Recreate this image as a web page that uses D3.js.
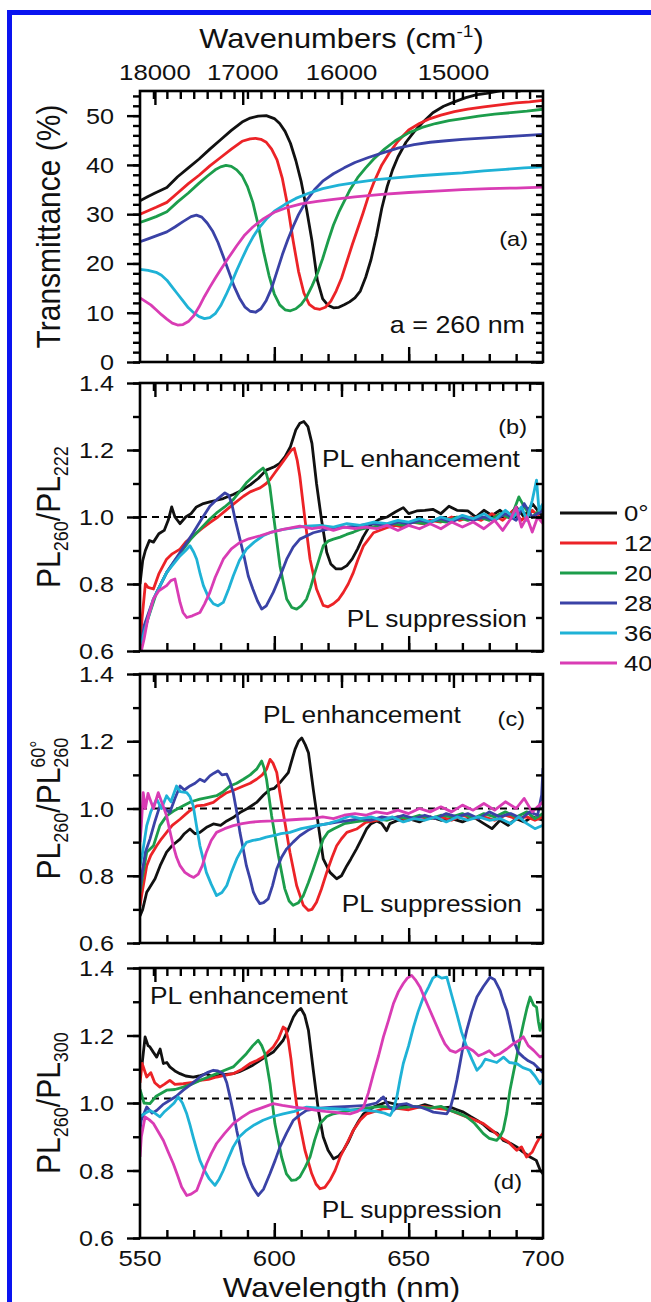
<!DOCTYPE html>
<html>
<head>
<meta charset="utf-8">
<script src="https://cdn.jsdelivr.net/npm/d3@7"></script>
<style>
  html, body { margin: 0; padding: 0; background: #fff; }
  svg { display: block; }
  text { font-family: "Liberation Sans", Arial, Helvetica, sans-serif; fill: #111; }
</style>
</head>
<body>
<svg id="fig" width="651" height="1302"></svg>
<script>
// ---------- axis values and labels ----------
const wavelengthDomain = [550, 700];
const wavelengthTicks = [550, 600, 650, 700];
const wavenumberTicks = [18000, 17000, 16000, 15000];
const transTicks = [0, 10, 20, 30, 40, 50];
const ratioTicks = [0.6, 0.8, 1.0, 1.2, 1.4];
const angleLabels = ["0°", "12°", "20°", "28°", "36°", "40°"];

// ---------- (a) transmittance, % vs wavelength (nm) ----------
const transBlack = [[550,32.7],[553,33.6],[556,34.4],[560,35.4],[564,37.6],[568,39.4],[572,41.2],[576,43.2],[580,45.1],[584,47.0],[588,48.7],[591,49.5],[594,49.9],[597,50.0],[600,49.4],[602,48.4],[604,46.8],[606,44.4],[608,40.9],[610,36.6],[612,31.0],[614,24.6],[616,16.6],[618,12.8],[620,11.5],[622,11.0],[624,11.1],[626,11.6],[628,12.2],[630,13.0],[632,14.4],[634,17.2],[636,20.8],[638,25.6],[640,31.2],[642,35.6],[644,39.0],[646,41.6],[649,44.6],[652,46.7],[655,48.5],[659,50.6],[663,51.9],[667,52.8],[671,53.6],[675,54.2],[679,54.5],[683,54.9],[687,55.3],[691,55.0],[695,55.4],[700,55.2]];
const transRed = [[550,30.0],[553,30.7],[556,31.4],[560,32.4],[564,34.3],[568,36.2],[572,37.9],[576,39.8],[580,41.5],[584,43.2],[588,44.8],[591,45.3],[593,45.4],[595,45.2],[597,44.6],[599,43.2],[601,41.0],[603,37.2],[605,31.6],[607,24.6],[609,18.4],[611,14.0],[613,11.7],[615,10.9],[617,10.7],[619,11.1],[621,12.3],[623,14.4],[625,17.0],[627,20.4],[629,23.8],[631,27.0],[633,30.2],[635,33.6],[637,36.4],[640,40.0],[643,42.6],[646,44.8],[650,47.1],[654,48.4],[658,49.4],[662,50.1],[667,50.8],[672,51.3],[678,51.8],[684,52.2],[690,52.6],[695,52.8],[700,53.1]];
const transGreen = [[550,28.3],[553,28.9],[556,29.5],[560,30.5],[564,32.5],[568,34.3],[572,36.3],[575,37.7],[578,39.0],[580,39.6],[582,39.9],[584,39.7],[586,39.0],[588,37.8],[590,35.6],[592,32.4],[594,27.8],[596,22.4],[598,17.6],[600,13.8],[602,11.6],[604,10.6],[606,10.4],[608,10.8],[610,11.7],[612,13.2],[614,15.4],[616,17.9],[618,21.0],[620,24.5],[622,27.8],[624,30.4],[626,32.6],[628,34.8],[631,37.4],[634,39.4],[637,41.2],[641,43.2],[645,44.9],[650,46.5],[655,47.6],[660,48.4],[665,49.0],[670,49.4],[676,49.9],[682,50.3],[688,50.6],[694,50.9],[700,51.3]];
const transBlue = [[550,24.4],[553,25.0],[556,25.6],[560,26.4],[563,27.4],[566,28.5],[569,29.5],[571,29.8],[573,29.4],[575,28.2],[577,26.6],[579,24.3],[581,21.4],[583,18.4],[585,15.4],[587,13.0],[589,11.2],[591,10.3],[593,10.1],[595,10.8],[597,12.5],[599,15.0],[601,18.4],[603,21.8],[605,24.8],[607,27.5],[609,29.9],[612,32.8],[615,35.0],[618,36.7],[622,38.2],[626,39.4],[630,40.5],[635,41.5],[640,42.4],[646,43.4],[652,44.1],[658,44.6],[664,44.9],[670,45.2],[676,45.4],[682,45.6],[688,45.8],[694,46.0],[700,46.2]];
const transCyan = [[550,18.8],[553,18.6],[556,18.2],[558,17.6],[560,16.6],[562,15.2],[564,13.8],[566,12.4],[568,11.0],[570,10.0],[572,9.2],[574,8.8],[576,9.0],[578,9.8],[580,11.4],[582,13.6],[584,16.0],[586,18.6],[588,21.0],[590,23.3],[592,25.3],[594,27.0],[597,29.0],[600,30.6],[604,32.0],[608,33.2],[613,34.3],[618,35.2],[624,35.9],[630,36.4],[638,37.0],[646,37.4],[654,37.8],[662,38.1],[670,38.4],[678,38.8],[686,39.1],[693,39.4],[700,39.6]];
const transMagenta = [[550,13.0],[552,12.3],[554,11.6],[556,10.6],[558,9.6],[560,8.7],[562,7.9],[564,7.5],[566,7.6],[568,8.2],[570,9.4],[572,11.2],[574,13.3],[576,15.2],[578,17.0],[580,18.7],[583,21.2],[586,23.6],[589,25.8],[592,27.4],[596,29.1],[600,30.4],[605,31.4],[610,32.1],[616,32.6],[622,33.0],[630,33.5],[640,34.0],[650,34.4],[660,34.7],[670,35.0],[680,35.2],[690,35.3],[700,35.5]];

// ---------- (b) PL260 / PL222 ----------
const ratioB0 = [[550,0.80],[551,0.87],[552,0.90],[553.5,0.93],[555,0.925],[557,0.95],[559,0.96],[560.5,0.99],[561.8,1.03],[563,1.00],[564.9,0.98],[567,1.00],[569,1.01],[571,1.03],[573.6,1.04],[576,1.045],[578.5,1.05],[581,1.055],[584.7,1.067],[588,1.08],[591,1.096],[594,1.115],[597,1.14],[600,1.15],[602,1.16],[604,1.18],[606,1.21],[608,1.26],[609.5,1.28],[611,1.285],[612.5,1.27],[614,1.22],[615.7,1.10],[617.6,0.99],[619.5,0.895],[621,0.86],[623,0.845],[625,0.845],[627,0.855],[629,0.875],[631,0.905],[633,0.94],[635.6,0.975],[639,0.993],[642,1.0],[645,1.015],[648,1.028],[650,1.01],[653,1.018],[656,1.02],[659,1.023],[662,1.01],[665,1.032],[668,1.02],[672,1.018],[675,1.0],[678,1.02],[681,1.005],[684,1.02],[687,1.0],[690,1.03],[693,1.0],[696,1.04],[700,1.0]];
const ratioB12 = [[550,0.62],[550.8,0.70],[552,0.80],[553,0.79],[555,0.785],[557,0.83],[559.9,0.874],[562,0.89],[564.9,0.904],[567,0.925],[569.8,0.944],[573,0.965],[576,0.983],[579,1.0],[582.3,1.022],[585,1.04],[588.5,1.062],[591,1.075],[594.7,1.087],[597,1.10],[598.4,1.112],[600,1.13],[602.8,1.161],[605,1.185],[606.4,1.20],[607.4,1.205],[608.5,1.17],[609.5,1.121],[611.4,0.993],[613.3,0.874],[615.7,0.785],[618.2,0.736],[620,0.732],[622,0.741],[624,0.755],[625.7,0.775],[627.5,0.80],[629.4,0.834],[631,0.87],[633.2,0.914],[636.9,0.953],[641.8,0.968],[645,0.975],[648,0.97],[651,0.985],[655,0.98],[658,0.99],[662,0.985],[666,1.0],[669,0.99],[673,1.0],[677,0.99],[681,1.01],[685,0.99],[689,1.02],[692,0.99],[696,1.02],[700,0.99]];
const ratioB20 = [[550,0.60],[552.5,0.685],[556.2,0.775],[559.9,0.834],[563,0.87],[566.1,0.904],[569,0.935],[572.3,0.963],[575.5,0.99],[578.5,1.012],[581.5,1.03],[584.7,1.052],[587,1.075],[589.6,1.102],[592,1.12],[594,1.135],[595.8,1.146],[597,1.13],[598.3,1.092],[600.2,0.973],[602.1,0.854],[604.6,0.755],[606.5,0.73],[608.3,0.725],[610,0.735],[612,0.755],[613.5,0.79],[615.1,0.834],[616.7,0.875],[618.2,0.914],[620,0.928],[622,0.934],[624.5,0.94],[626.9,0.948],[629.5,0.955],[631.9,0.963],[636,0.97],[640,0.975],[644,0.98],[648,0.975],[652,0.985],[656,0.98],[660,0.99],[664,0.985],[668,1.0],[672,0.99],[676,1.0],[680,0.99],[684,1.01],[688,0.995],[691,1.06],[693,1.03],[696,1.0],[700,1.03]];
const ratioB28 = [[550.5,0.62],[551.5,0.675],[555,0.755],[559.9,0.834],[564.9,0.894],[569.8,0.953],[573,0.995],[576,1.032],[579,1.055],[581.6,1.072],[583,1.065],[584.1,1.042],[585.5,0.99],[587.2,0.934],[588.8,0.88],[590.3,0.824],[592,0.785],[593.7,0.75],[595.3,0.725],[597,0.735],[599.6,0.775],[602,0.82],[604.6,0.874],[607,0.91],[609.5,0.934],[614.5,0.953],[618,0.96],[622,0.968],[627,0.97],[632,0.975],[637,0.98],[642,0.975],[646,0.985],[650,0.98],[654,0.99],[658,0.985],[662,0.995],[666,0.985],[670,1.0],[674,0.99],[678,1.0],[682,0.99],[686,1.01],[690,0.99],[693,1.04],[696,1.0],[700,1.02]];
const ratioB36 = [[550.5,0.62],[551.5,0.655],[555,0.755],[559.9,0.834],[562.5,0.86],[564.9,0.884],[567,0.90],[568.6,0.914],[570,0.895],[571.1,0.874],[572.4,0.83],[573.6,0.795],[575.5,0.76],[577.3,0.741],[579,0.735],[581,0.745],[583,0.785],[584.7,0.824],[587,0.87],[589.6,0.904],[592.5,0.925],[595.8,0.944],[599,0.955],[603.3,0.963],[608,0.968],[612,0.973],[617,0.975],[622,0.97],[627,0.98],[632,0.975],[637,0.985],[642,0.98],[646,0.99],[650,0.985],[654,0.995],[658,0.985],[662,1.0],[666,0.99],[670,1.005],[674,0.995],[678,1.01],[682,0.99],[686,1.02],[689,1.0],[692,1.03],[694,0.99],[696,1.05],[697.6,1.11],[698.5,1.02],[700,1.04]];
const ratioB40 = [[550.5,0.60],[551.5,0.635],[553,0.70],[555,0.755],[557,0.78],[559.9,0.795],[561.5,0.81],[563,0.815],[564.9,0.745],[566,0.715],[567.4,0.70],[569.5,0.705],[572.3,0.715],[574,0.74],[576,0.775],[578,0.82],[581,0.874],[584,0.905],[587.2,0.924],[590.5,0.935],[594.7,0.944],[599,0.955],[603.3,0.963],[609.5,0.973],[614,0.965],[618,0.97],[622,0.96],[626,0.97],[630,0.965],[634,0.97],[638,0.965],[642,0.975],[646,0.96],[650,0.975],[654,0.965],[658,0.98],[662,0.965],[666,0.985],[670,0.97],[674,0.985],[678,0.965],[682,0.99],[685,0.96],[688,0.995],[690,1.03],[692,0.97],[694,1.0],[696,0.955],[698,1.0],[700,0.98]];

// ---------- (c) PL260 / PL260 at 60° ----------
const ratioC0 = [[550,0.68],[551,0.70],[552.5,0.751],[554,0.77],[555.6,0.791],[557.5,0.83],[559.9,0.870],[562,0.89],[564.9,0.909],[566.5,0.925],[568.6,0.939],[570.5,0.925],[572.3,0.929],[575,0.945],[577.3,0.954],[580,0.95],[582.3,0.963],[585,0.975],[587.2,0.988],[590,1.0],[593.4,1.018],[596,1.04],[598.4,1.057],[600,1.06],[602.1,1.077],[605.2,1.107],[607.7,1.176],[609,1.20],[610.2,1.21],[611.5,1.19],[612.7,1.166],[614.5,1.057],[616.4,0.949],[618.2,0.85],[620.7,0.81],[623.2,0.791],[625,0.80],[627,0.83],[628.5,0.85],[630.6,0.88],[632.5,0.91],[634.3,0.939],[636,0.955],[638.1,0.963],[640,0.955],[641.8,0.934],[643,0.955],[646,0.965],[650,0.97],[654,0.96],[658,0.975],[662,0.965],[666,0.97],[670,0.96],[674,0.975],[678,0.955],[681,0.94],[684,0.965],[687,0.95],[690,0.97],[693,0.96],[696,0.975],[700,0.965]];
const ratioC12 = [[550,0.71],[550.8,0.751],[552.5,0.83],[554,0.86],[556.2,0.889],[558,0.91],[559.9,0.929],[562,0.95],[564.9,0.968],[568,0.99],[571.1,1.008],[574,1.01],[577.3,1.018],[580,1.035],[582.3,1.047],[585,1.055],[588.5,1.067],[591,1.075],[593.4,1.087],[595.5,1.10],[597.1,1.117],[598.4,1.146],[599.5,1.135],[600.9,1.107],[602,1.05],[603.3,0.988],[605.8,0.870],[608.3,0.771],[610.8,0.712],[612.7,0.697],[614,0.70],[615.7,0.721],[617.5,0.76],[619.5,0.810],[621.5,0.855],[623.2,0.889],[625,0.91],[627,0.929],[630.6,0.939],[634,0.959],[638,0.965],[642,0.97],[646,0.975],[650,0.965],[654,0.975],[658,0.97],[662,0.975],[666,0.965],[670,0.98],[674,0.97],[678,0.975],[682,0.965],[686,0.98],[690,0.97],[694,0.975],[697,0.965],[700,0.975]];
const ratioC20 = [[550,0.75],[550.8,0.791],[552.5,0.870],[555,0.889],[557.4,0.949],[559.9,0.978],[563,0.995],[566.1,1.008],[569,1.02],[572.3,1.028],[575.5,1.033],[578.5,1.038],[581,1.05],[583.5,1.067],[586,1.075],[588.5,1.087],[591,1.10],[593.4,1.117],[595.3,1.141],[596.2,1.12],[597.1,1.087],[599,0.978],[601.5,0.86],[603.9,0.761],[605.5,0.725],[607,0.712],[609,0.72],[610.8,0.741],[612.7,0.78],[614.5,0.82],[616.4,0.865],[618.2,0.909],[620,0.93],[622,0.939],[626,0.955],[630,0.96],[634,0.965],[638,0.97],[642,0.965],[646,0.975],[650,0.97],[654,0.98],[658,0.97],[662,0.98],[666,0.975],[670,0.985],[674,0.97],[678,0.985],[682,0.975],[686,0.99],[690,0.975],[694,0.99],[697,0.97],[700,0.985]];
const ratioC28 = [[550,0.76],[550.8,0.81],[552,0.87],[553.7,0.909],[555.5,0.96],[557.4,1.008],[559,1.0],[561.1,0.988],[563,1.03],[564.9,1.067],[566.5,1.055],[568.6,1.067],[570.5,1.075],[572.3,1.087],[574,1.08],[576,1.097],[577.5,1.105],[579.1,1.112],[580.5,1.10],[582.3,1.102],[583.5,1.08],[584.7,1.047],[586,0.99],[587.2,0.929],[588.4,0.88],[589.6,0.830],[591,0.79],[592.2,0.751],[593.5,0.73],[594.6,0.717],[596,0.72],[597.7,0.731],[599.3,0.77],[600.9,0.82],[602.7,0.855],[604.6,0.880],[607,0.90],[609.5,0.919],[612.5,0.935],[615.7,0.949],[620,0.955],[624,0.96],[628,0.965],[632,0.97],[636,0.965],[640,0.975],[644,0.97],[648,0.98],[652,0.97],[656,0.98],[660,0.97],[664,0.985],[668,0.975],[672,0.985],[676,0.97],[680,0.99],[684,0.975],[688,0.985],[692,0.97],[695,0.99],[698,0.98],[699.5,1.04],[700,1.12]];
const ratioC36 = [[550,0.83],[550.8,0.86],[552.5,0.949],[554,0.99],[556.2,1.028],[558,1.0],[559.9,1.038],[561.5,1.02],[563.6,1.067],[565,1.05],[567.4,1.047],[568.6,1.035],[569.8,1.008],[571,0.95],[572.3,0.889],[573.5,0.85],[574.7,0.81],[576.5,0.775],[578.5,0.741],[580.5,0.75],[582.3,0.771],[584,0.81],[586,0.85],[588,0.88],[589.6,0.899],[592,0.905],[594.6,0.909],[597,0.915],[599.6,0.919],[602.5,0.925],[605.8,0.929],[610,0.94],[615.7,0.949],[620,0.955],[624,0.965],[628.1,0.978],[632,0.97],[636,0.975],[640,0.965],[644,0.975],[648,0.96],[652,0.97],[656,0.965],[660,0.975],[664,0.96],[668,0.975],[672,0.965],[676,0.975],[680,0.965],[684,0.97],[688,0.955],[691,0.975],[694,0.955],[697,0.94],[700,0.95]];
const ratioC40 = [[550,0.90],[550.5,0.95],[551.2,1.047],[552,1.0],[553,1.045],[553.7,1.028],[555,1.0],[556.8,1.047],[558.5,1.01],[559.9,0.978],[561.2,0.93],[562.4,0.889],[563.6,0.855],[564.9,0.83],[566.7,0.81],[568.6,0.80],[570,0.795],[571.7,0.805],[573.2,0.83],[574.7,0.870],[576.5,0.905],[578.5,0.929],[581.5,0.94],[584.7,0.949],[588,0.955],[590.9,0.959],[595,0.962],[599.6,0.963],[604,0.965],[609.5,0.968],[614,0.97],[618,0.975],[622,0.97],[626,0.98],[630,0.985],[634,0.98],[638,0.99],[642,0.985],[646,0.995],[650,0.985],[654,1.0],[658,0.99],[662,1.005],[666,0.99],[670,1.01],[674,0.995],[678,1.015],[682,0.995],[686,1.02],[690,1.0],[693,1.03],[696,0.99],[700,1.02]];

// ---------- (d) PL260 / PL300 ----------
const ratioD0 = [[550,1.10],[550.8,1.117],[551.9,1.196],[553,1.17],[553.7,1.166],[555,1.15],[556.2,1.136],[557.5,1.16],[558.7,1.117],[560,1.12],[561.1,1.107],[563,1.095],[564.9,1.087],[567,1.08],[569.8,1.077],[572,1.08],[574.7,1.087],[577,1.078],[579.7,1.082],[582,1.085],[584.7,1.087],[587,1.093],[589.6,1.102],[592,1.112],[594.6,1.126],[597,1.138],[599.6,1.151],[603.3,1.186],[605,1.215],[607.1,1.255],[608.5,1.272],[609.9,1.28],[611.3,1.26],[612.7,1.215],[614.5,1.097],[616.4,0.978],[618.2,0.899],[620,0.86],[622,0.835],[624,0.843],[625.7,0.86],[627.5,0.885],[629.4,0.919],[631.3,0.945],[633.2,0.968],[636.9,0.988],[641.8,1.003],[646.8,0.993],[650,0.99],[653,0.988],[656,0.995],[659.2,0.988],[662,0.985],[665.4,0.988],[668,0.98],[670.4,0.973],[673,0.96],[675.4,0.949],[678,0.935],[680.3,0.919],[683,0.91],[685.3,0.889],[688,0.88],[690.2,0.870],[692.5,0.855],[695.2,0.840],[697.5,0.83],[699,0.80],[700,0.79]];
const ratioD12 = [[550,1.06],[550.8,1.117],[552.5,1.077],[554,1.09],[555.5,1.06],[557.4,1.047],[559,1.055],[561.1,1.067],[563,1.055],[566.1,1.057],[569,1.06],[572.3,1.067],[575.5,1.07],[578.5,1.077],[581.5,1.082],[584.7,1.087],[588,1.10],[590.9,1.117],[593.5,1.126],[595.8,1.136],[597.5,1.15],[599.6,1.166],[601.5,1.19],[603.3,1.225],[604.2,1.22],[605.2,1.186],[606.2,1.13],[607.1,1.067],[608.9,0.959],[611.4,0.86],[613.9,0.791],[615.5,0.76],[617,0.746],[618.8,0.75],[620.7,0.771],[622.6,0.80],[624.5,0.84],[627,0.88],[629.4,0.919],[632,0.95],[634.4,0.968],[640.6,0.983],[645,0.985],[650,0.98],[655,0.99],[660,0.985],[665,0.98],[668,0.97],[671.6,0.959],[674.5,0.95],[677.8,0.939],[681,0.92],[684,0.899],[687,0.885],[690.2,0.86],[692,0.87],[693.9,0.84],[696,0.855],[697.5,0.88],[698.9,0.899],[700,0.91]];
const ratioD20 = [[550,1.04],[551.5,1.0],[553.7,0.998],[556,1.02],[559.9,1.038],[563,1.04],[566.1,1.047],[569,1.055],[572.3,1.067],[575.5,1.077],[578.5,1.087],[581.5,1.097],[584.7,1.107],[587,1.125],[589.6,1.146],[592,1.17],[594,1.186],[595.3,1.17],[596.5,1.146],[597.5,1.10],[598.4,1.057],[600.2,0.939],[602.7,0.84],[604.5,0.79],[606.4,0.771],[608,0.772],[609.5,0.781],[611.5,0.81],[613.3,0.84],[615,0.89],[617,0.939],[619.5,0.96],[622,0.968],[628.2,0.978],[634,0.985],[640,0.99],[646,0.985],[652,0.99],[658,0.985],[662,0.99],[665.4,0.978],[668.5,0.97],[671.6,0.959],[674.5,0.94],[677.8,0.909],[680,0.895],[682.7,0.889],[684,0.90],[685.2,0.919],[686.5,0.97],[687.7,1.038],[689,1.09],[690.2,1.136],[691.5,1.19],[692.7,1.235],[694,1.28],[695.2,1.314],[696.5,1.29],[697.6,1.284],[698.3,1.24],[698.9,1.215],[700,1.25]];
const ratioD28 = [[550,0.92],[550.5,0.95],[552.5,0.988],[554.5,0.97],[556.2,0.978],[558.5,0.995],[561.1,1.008],[563.5,1.02],[566.1,1.038],[569,1.055],[572.3,1.077],[575,1.09],[577.3,1.097],[579,1.095],[581,1.087],[582.3,1.06],[583.5,1.018],[584.8,0.97],[586,0.919],[587.3,0.87],[588.5,0.82],[590.3,0.78],[592,0.75],[594,0.726],[596,0.745],[598.4,0.791],[600.3,0.83],[602.1,0.87],[604.5,0.91],[607.1,0.949],[609.5,0.965],[612,0.978],[617,0.985],[622,0.988],[628,0.99],[634.4,0.993],[638,1.0],[640.6,1.018],[642.5,0.99],[644.3,0.978],[646.5,0.995],[649.3,0.998],[651.5,0.99],[654.2,0.988],[657,0.98],[659.2,0.973],[662,0.97],[664.2,0.968],[665.5,0.985],[666.6,1.018],[668,1.07],[669.1,1.117],[670.3,1.17],[671.6,1.215],[673.5,1.27],[675.4,1.314],[677.8,1.345],[680.3,1.373],[682,1.365],[684,1.334],[685.3,1.30],[686.5,1.275],[687.8,1.23],[689,1.186],[690.8,1.15],[692.7,1.136],[694.5,1.125],[696.5,1.117],[698,1.105],[699,1.097],[700,1.09]];
const ratioD36 = [[550,0.96],[552,0.97],[553.7,0.978],[555.5,0.97],[557.4,0.959],[559.2,0.975],[561.1,0.988],[562.7,1.0],[564.2,1.018],[565.8,1.0],[567.4,0.968],[568.6,0.935],[569.8,0.899],[571,0.865],[572.3,0.83],[574,0.80],[575.8,0.775],[577.9,0.756],[579.5,0.775],[581,0.80],[582.8,0.835],[584.7,0.87],[587,0.90],[589.6,0.919],[592.5,0.935],[595.8,0.949],[599.5,0.96],[603.3,0.968],[607.5,0.975],[612,0.988],[617,0.985],[622,0.983],[628,0.98],[634.4,0.978],[638,0.975],[641,0.97],[643.1,0.963],[644.3,0.98],[645.6,1.018],[646.8,1.07],[648,1.117],[650,1.17],[651.8,1.225],[653.5,1.27],[655.5,1.314],[657.5,1.345],[659,1.37],[660.5,1.378],[662.3,1.37],[664.2,1.373],[666,1.32],[667.9,1.265],[669.7,1.21],[671.6,1.166],[673.5,1.13],[675.4,1.097],[677,1.11],[678.5,1.13],[680.3,1.126],[682.8,1.12],[685.3,1.136],[687.5,1.12],[690.2,1.117],[692.5,1.105],[695.2,1.097],[697,1.08],[698.9,1.057],[700,1.07]];
const ratioD40 = [[550,0.84],[550.5,0.90],[551.9,0.959],[553.5,0.95],[555,0.939],[556.8,0.915],[558.7,0.889],[560.5,0.855],[562.4,0.82],[564,0.785],[565.5,0.751],[567.4,0.726],[569,0.73],[571.1,0.741],[573,0.78],[574.8,0.82],[576.5,0.85],[578.5,0.88],[581.5,0.91],[584.7,0.939],[588,0.958],[590.9,0.973],[595,0.985],[599.6,0.998],[603,0.993],[607.1,0.988],[611,0.985],[615.7,0.978],[619,0.975],[622,0.973],[625,0.97],[628.2,0.968],[631,0.975],[633.2,0.988],[635,1.03],[636.9,1.087],[638.8,1.14],[640.6,1.196],[642.5,1.245],[644.3,1.294],[646.2,1.33],[648,1.354],[649.5,1.37],[651.1,1.378],[652.5,1.365],[654.2,1.344],[656,1.31],[657.9,1.275],[659.8,1.24],[661.7,1.205],[663.5,1.175],[665.4,1.156],[667.5,1.15],[669.5,1.16],[671.6,1.166],[674,1.155],[676,1.14],[677.8,1.146],[680,1.155],[682,1.14],[684,1.146],[686.5,1.16],[689,1.176],[691,1.185],[692.7,1.196],[694.5,1.17],[696.5,1.156],[698.9,1.136],[700,1.14]];

// ---------- styling ----------
const seriesColors = ["#111111", "#ec2327", "#1c9d4b", "#3a42a6", "#1fb2d6", "#d93cb4"];
const FONT_SX = 1.12;          // horizontal glyph stretch used for all lettering
const PL = 140, PR = 543;      // plot frame, left / right
const svg = d3.select("#fig");

// outer blue frame (open on the right and at the bottom)
svg.append("rect").attr("x", 9.5).attr("y", 12.5).attr("width", 760).attr("height", 1400)
  .attr("fill", "none").attr("stroke", "#0a14f0").attr("stroke-width", 5);

const x = d3.scaleLinear().domain(wavelengthDomain).range([PL, PR]);

const panels = [
  { key: "a", top: 91, bottom: 362, domain: [0, 55], major: transTicks, minor: d3.range(0, 55.01, 2),
    fmt: d3.format("d"), ref: null,
    series: [transBlack, transRed, transGreen, transBlue, transCyan, transMagenta] },
  { key: "b", top: 383, bottom: 651, domain: [0.6, 1.4], major: ratioTicks, minor: d3.range(0.6, 1.401, 0.1),
    fmt: d3.format(".1f"), ref: 1.0,
    series: [ratioB0, ratioB12, ratioB20, ratioB28, ratioB36, ratioB40] },
  { key: "c", top: 674, bottom: 943, domain: [0.6, 1.4], major: ratioTicks, minor: d3.range(0.6, 1.401, 0.1),
    fmt: d3.format(".1f"), ref: 1.0,
    series: [ratioC0, ratioC12, ratioC20, ratioC28, ratioC36, ratioC40] },
  { key: "d", top: 968, bottom: 1238, domain: [0.6, 1.4], major: ratioTicks, minor: d3.range(0.6, 1.401, 0.1),
    fmt: d3.format(".1f"), ref: 1.013,
    series: [ratioD0, ratioD12, ratioD20, ratioD28, ratioD36, ratioD40] }
];

// text helper: horizontally stretched lettering
function label(g, str, px, py, size, anchor) {
  return g.append("text")
    .attr("transform", `translate(${px},${py}) scale(${FONT_SX},1)`)
    .attr("text-anchor", anchor || "start")
    .style("font-size", size + "px")
    .text(str);
}

function tickAxis(g, axisFn, scale, values, size, transform) {
  const ag = g.append("g").attr("transform", transform)
    .call(axisFn(scale).tickValues(values).tickSize(size).tickFormat(""));
  ag.select(".domain").remove();
  ag.selectAll(".tick line").attr("stroke", "#000").attr("stroke-width", 2.4);
  return ag;
}

const defs = svg.append("defs");
const minorWl = d3.range(560, 700, 10);
const majorWl = [600, 650];
const topMinor = d3.range(555, 700, 5);
const topMajor = wavenumberTicks.map(k => 1e7 / k);

panels.forEach(p => {
  const y = d3.scaleLinear().domain(p.domain).range([p.bottom, p.top]);
  const g = svg.append("g").attr("class", "panel-" + p.key);
  const cid = "clip-" + p.key;
  defs.append("clipPath").attr("id", cid).append("rect")
    .attr("x", PL).attr("y", p.top).attr("width", PR - PL).attr("height", p.bottom - p.top);

  if (p.ref !== null) {
    g.append("line").attr("x1", PL).attr("x2", PR).attr("y1", y(p.ref)).attr("y2", y(p.ref))
      .attr("stroke", "#000").attr("stroke-width", 2).attr("stroke-dasharray", "7,5");
  }

  const line = d3.line().x(d => x(d[0])).y(d => y(d[1]));
  const lines = g.append("g").attr("clip-path", `url(#${cid})`);
  p.series.forEach((s, i) => {
    lines.append("path").datum(s).attr("d", line)
      .attr("fill", "none").attr("stroke", seriesColors[i])
      .attr("stroke-width", 2.8).attr("stroke-linejoin", "round");
  });

  // ticks: left outward, right / top / bottom inward
  tickAxis(g, d3.axisLeft, y, p.minor, 7, `translate(${PL},0)`);
  tickAxis(g, d3.axisLeft, y, p.major, 13, `translate(${PL},0)`);
  tickAxis(g, d3.axisLeft, y, p.minor, 7, `translate(${PR},0)`);
  tickAxis(g, d3.axisLeft, y, p.major, 12, `translate(${PR},0)`);
  tickAxis(g, d3.axisTop, x, minorWl, 8, `translate(0,${p.bottom})`);
  tickAxis(g, d3.axisTop, x, majorWl, 15, `translate(0,${p.bottom})`);
  tickAxis(g, d3.axisBottom, x, topMinor, 8, `translate(0,${p.top})`);
  tickAxis(g, d3.axisBottom, x, topMajor, 14, `translate(0,${p.top})`);

  g.append("rect").attr("x", PL).attr("y", p.top).attr("width", PR - PL).attr("height", p.bottom - p.top)
    .attr("fill", "none").attr("stroke", "#000").attr("stroke-width", 2.6);

  // y tick labels
  p.major.forEach(v => {
    label(g, p.fmt(v), 114, y(v) + 8, 22.5, "end");
  });
});

// top wavenumber axis labels and title
wavenumberTicks.forEach(k => label(svg, String(k), x(1e7 / k), 80, 23, "middle"));
const wn = svg.append("text")
  .attr("transform", `translate(${(PL + PR) / 2},48) scale(${FONT_SX},1)`)
  .attr("text-anchor", "middle").style("font-size", "27.5px");
wn.append("tspan").text("Wavenumbers (cm");
wn.append("tspan").attr("dy", -11).style("font-size", "17px").text("-1");
wn.append("tspan").attr("dy", 11).text(")");

// bottom wavelength axis labels and title
wavelengthTicks.forEach(w => label(svg, String(w), x(w), 1266, 23, "middle"));
label(svg, "Wavelength (nm)", (PL + PR) / 2, 1297, 28, "middle");

// rotated y titles
function yTitle(cy, build) {
  const t = svg.append("text")
    .attr("transform", `translate(60,${cy}) scale(${FONT_SX},1) rotate(-90)`)
    .attr("text-anchor", "middle").style("font-size", "30px");
  build(t);
  return t;
}
yTitle((91 + 362) / 2, t => t.text("Transmittance (%)"));
function plRatio(t, num, den, sup) {
  t.append("tspan").text("PL");
  t.append("tspan").attr("dy", 7).style("font-size", "18px").text(num);
  t.append("tspan").attr("dy", -7).text("/PL");
  const s = t.append("tspan").attr("dy", 7).style("font-size", "18px").text(den);
  if (sup) {
    const w = s.node().getComputedTextLength();
    t.append("tspan").attr("dx", -w).attr("dy", -20).style("font-size", "18px").text(sup);
  }
}
yTitle((383 + 651) / 2, t => plRatio(t, "260", "222"));
yTitle((674 + 943) / 2, t => plRatio(t, "260", "260", "60°"));
yTitle((968 + 1238) / 2, t => plRatio(t, "260", "300"));

// in-panel annotations
label(svg, "(a)", 528, 246, 21, "end");
label(svg, "a = 260 nm", 525, 333, 24, "end");
label(svg, "(b)", 527, 434, 21, "end");
label(svg, "PL enhancement", 322, 467, 23.5, "start");
label(svg, "PL suppression", 527, 627, 23.5, "end");
label(svg, "PL enhancement", 263, 723, 23.5, "start");
label(svg, "(c)", 525, 726, 21, "end");
label(svg, "PL suppression", 522, 912, 23.5, "end");
label(svg, "PL enhancement", 150, 1004, 23.5, "start");
label(svg, "(d)", 522, 1189, 21, "end");
label(svg, "PL suppression", 502, 1218, 23.5, "end");

// legend
const legend = svg.append("g").attr("class", "legend");
angleLabels.forEach((a, i) => {
  const ly = 513 + i * 30;
  legend.append("line").attr("x1", 560).attr("x2", 617).attr("y1", ly).attr("y2", ly)
    .attr("stroke", seriesColors[i]).attr("stroke-width", 3.2);
  label(legend, a, 624, ly + 8, 23, "start");
});
</script>
</body>
</html>
